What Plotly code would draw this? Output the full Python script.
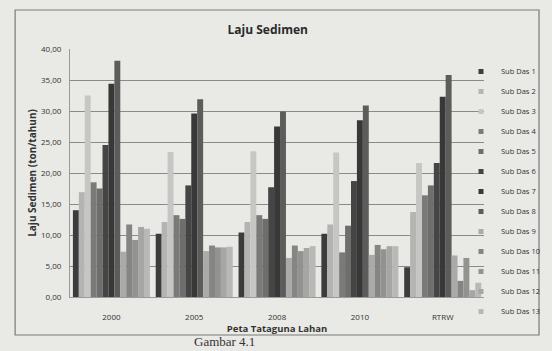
import plotly.graph_objects as go

categories = ["2000", "2005", "2008", "2010", "RTRW"]
series_names = [f"Sub Das {i}" for i in range(1, 14)]

sub_das_1 = [14.0, 10.2, 10.4, 10.2, 4.8]
sub_das_2 = [16.9, 12.1, 12.1, 11.7, 13.7]
sub_das_3 = [32.5, 23.4, 23.5, 23.3, 21.6]
sub_das_4 = [18.5, 13.2, 13.2, 7.2, 16.4]
sub_das_5 = [17.5, 12.6, 12.6, 11.5, 18.0]
sub_das_6 = [24.5, 18.0, 17.7, 18.7, 21.6]
sub_das_7 = [34.4, 29.6, 27.5, 28.5, 32.3]
sub_das_8 = [38.1, 31.9, 29.9, 30.9, 35.8]
sub_das_9 = [7.3, 7.4, 6.3, 6.8, 6.7]
sub_das_10 = [11.7, 8.3, 8.3, 8.4, 2.6]
sub_das_11 = [9.2, 8.0, 7.4, 7.7, 6.3]
sub_das_12 = [11.3, 8.0, 7.9, 8.2, 1.1]
sub_das_13 = [11.0, 8.1, 8.2, 8.2, 2.3]

values = [sub_das_1, sub_das_2, sub_das_3, sub_das_4, sub_das_5, sub_das_6, sub_das_7,
          sub_das_8, sub_das_9, sub_das_10, sub_das_11, sub_das_12, sub_das_13]

colors = ["#3c3c3c", "#b4b4b2", "#c6c6c4", "#7a7a78", "#6e6e6c", "#454545", "#383838",
          "#5c5c5a", "#aaaaa8", "#858583", "#929290", "#a6a6a4", "#b8b8b6"]

fig = go.Figure()
for name, vals, col in zip(series_names, values, colors):
    fig.add_trace(go.Bar(x=categories, y=vals, name=name, marker_color=col,
                         marker_line_width=0, showlegend=False, legendgroup=name))
# compact legend entries (small square markers)
for name, col in zip(series_names, colors):
    fig.add_trace(go.Scatter(x=[None], y=[None], mode="markers", name=name,
                             marker=dict(symbol="square", size=5, color=col),
                             legendgroup=name, showlegend=True))

W, H = 552, 351
L, R, T, B = 70, 8, 49, 54
pw = W - L - R
ph = H - T - B


def px_x(p):
    return (p - L) / pw


def px_y(p):
    return (H - B - p) / ph


paper = "#e9e9e6"
fig.update_layout(
    width=W, height=H,
    paper_bgcolor=paper, plot_bgcolor=paper,
    margin=dict(l=L, r=R, t=T, b=B),
    separators=",.",
    barmode="group", bargap=0.07, bargroupgap=0,
    font=dict(family="Open Sans, Liberation Sans, sans-serif", color="#333333", size=8),
    title=dict(text="<b>Laju Sedimen</b>", x=0.485, xanchor="center", y=0.915,
               yanchor="middle", font=dict(size=12, color="#2a2a2a")),
    legend=dict(x=px_x(461), xanchor="left", y=px_y(57), yanchor="top",
                font=dict(size=7.5, color="#333333"), bgcolor="rgba(0,0,0,0)",
                tracegroupgap=1, itemwidth=30, itemsizing="trace", maxheight=330),
    showlegend=True,
    xaxis=dict(domain=[0, px_x(485)], showgrid=False, showline=True, linecolor="#9a9a9a",
               tickfont=dict(size=8, color="#333333"), ticks="", ticklabelstandoff=12,
               title=dict(text="<b>Peta Tataguna Lahan</b>", font=dict(size=9.5), standoff=0)),
    yaxis=dict(range=[0, 40], dtick=5, tickformat=".2f", showgrid=True,
               gridcolor="#8a8a88", gridwidth=1.3, showline=True, linecolor="#9a9a9a",
               zeroline=False, tickfont=dict(size=8, color="#333333"), ticklabelstandoff=6,
               title=dict(text="<b>Laju Sedimen (ton/tahun)</b>", font=dict(size=10), standoff=2)),
)

# frame of the printed chart
fig.add_shape(type="rect", xref="paper", yref="paper",
              x0=px_x(15), x1=px_x(540), y0=px_y(335), y1=px_y(10),
              line=dict(color="#7a7a78", width=1.2), fillcolor="rgba(0,0,0,0)", layer="below")

# caption at the bottom of the photo
fig.add_annotation(text="Gambar 4.1", xref="paper", yref="paper", x=px_x(225), y=px_y(351),
                   xanchor="center", yanchor="bottom", showarrow=False,
                   font=dict(family="Liberation Serif, serif", size=13, color="#333333"))

fig.write_html("out.html")
